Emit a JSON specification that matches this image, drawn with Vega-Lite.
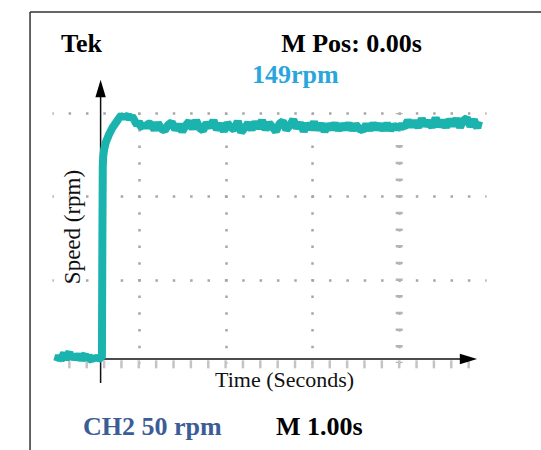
{
  "$schema": "https://vega.github.io/schema/vega-lite/v6.json",
  "width": 434,
  "height": 250,
  "autosize": {"type": "none"},
  "padding": {"left": 52, "top": 113, "right": 55, "bottom": 87},
  "background": "white",
  "config": {"view": {"stroke": null}},
  "datasets": {
    "frame": [
      {"t1": -0.813, "t2": 5.1, "r1": 210.6, "r2": 210.6},
      {"t1": -0.813, "t2": -0.813, "r1": 210.6, "r2": -60}
    ],
    "minor": [
      {"t": -0.36}, {"t": -0.16}, {"t": 0.04}, {"t": 0.24}, {"t": 0.44}, {"t": 0.64},
      {"t": 0.84}, {"t": 1.04}, {"t": 1.24}, {"t": 1.44}, {"t": 1.64}, {"t": 1.84},
      {"t": 2.04}, {"t": 2.24}, {"t": 2.44}, {"t": 2.64}, {"t": 2.84}, {"t": 3.04},
      {"t": 3.24}, {"t": 3.44}, {"t": 3.64}, {"t": 3.84}, {"t": 4.04}, {"t": 4.24}
    ],
    "axes": [
      {"t1": -0.47, "t2": 4.2, "r1": 2.4, "r2": 2.4},
      {"t1": 0, "t2": 0, "r1": -12, "r2": 161}
    ],
    "trace": [
      {"t": -0.5, "rpm": 1}, {"t": -0.48, "rpm": 4.5}, {"t": -0.46, "rpm": 1.5}, {"t": -0.44, "rpm": 4},
      {"t": -0.42, "rpm": 6}, {"t": -0.4, "rpm": 2}, {"t": -0.38, "rpm": 5}, {"t": -0.36, "rpm": 6.5},
      {"t": -0.34, "rpm": 2.5}, {"t": -0.32, "rpm": 5.5}, {"t": -0.3, "rpm": 2}, {"t": -0.28, "rpm": 4.5},
      {"t": -0.26, "rpm": 2.5}, {"t": -0.24, "rpm": 5.5}, {"t": -0.22, "rpm": 1.5}, {"t": -0.2, "rpm": 4},
      {"t": -0.18, "rpm": 5}, {"t": -0.16, "rpm": 2}, {"t": -0.14, "rpm": 4.5}, {"t": -0.12, "rpm": 2.5},
      {"t": -0.1, "rpm": 1.5}, {"t": -0.08, "rpm": 4}, {"t": -0.06, "rpm": 2.5}, {"t": -0.04, "rpm": 3.5},
      {"t": -0.02, "rpm": 2.5}, {"t": 0.0, "rpm": 3}, {"t": 0.015, "rpm": 3}, {"t": 0.02, "rpm": 70},
      {"t": 0.025, "rpm": 118}, {"t": 0.03, "rpm": 124}, {"t": 0.04, "rpm": 128}, {"t": 0.06, "rpm": 132.5},
      {"t": 0.08, "rpm": 135}, {"t": 0.1, "rpm": 137.5}, {"t": 0.12, "rpm": 139.5}, {"t": 0.14, "rpm": 141.5},
      {"t": 0.16, "rpm": 143}, {"t": 0.18, "rpm": 144.5}, {"t": 0.2, "rpm": 146}, {"t": 0.22, "rpm": 147.5},
      {"t": 0.24, "rpm": 148.5}, {"t": 0.26, "rpm": 146.5}, {"t": 0.28, "rpm": 149}, {"t": 0.3, "rpm": 147.5},
      {"t": 0.32, "rpm": 149}, {"t": 0.34, "rpm": 146}, {"t": 0.36, "rpm": 148}, {"t": 0.38, "rpm": 146.5},
      {"t": 0.4, "rpm": 144.5}, {"t": 0.42, "rpm": 143}, {"t": 0.44, "rpm": 145}, {"t": 0.46, "rpm": 142},
      {"t": 0.48, "rpm": 141.5}, {"t": 0.5, "rpm": 144}, {"t": 0.52, "rpm": 141}, {"t": 0.54, "rpm": 143.5},
      {"t": 0.58, "rpm": 143.5}, {"t": 0.62, "rpm": 140}, {"t": 0.66, "rpm": 144}, {"t": 0.7, "rpm": 140.5},
      {"t": 0.74, "rpm": 139.5}, {"t": 0.78, "rpm": 143}, {"t": 0.82, "rpm": 144.5}, {"t": 0.86, "rpm": 140},
      {"t": 0.9, "rpm": 143}, {"t": 0.94, "rpm": 139}, {"t": 0.98, "rpm": 142.5}, {"t": 1.02, "rpm": 145},
      {"t": 1.06, "rpm": 140.5}, {"t": 1.1, "rpm": 145.5}, {"t": 1.14, "rpm": 141}, {"t": 1.18, "rpm": 139.5},
      {"t": 1.22, "rpm": 144}, {"t": 1.26, "rpm": 141.5}, {"t": 1.3, "rpm": 145.5}, {"t": 1.34, "rpm": 140},
      {"t": 1.38, "rpm": 143.5}, {"t": 1.42, "rpm": 139}, {"t": 1.46, "rpm": 144}, {"t": 1.5, "rpm": 141.5},
      {"t": 1.54, "rpm": 140}, {"t": 1.58, "rpm": 145}, {"t": 1.62, "rpm": 138.5}, {"t": 1.66, "rpm": 141},
      {"t": 1.7, "rpm": 144}, {"t": 1.74, "rpm": 140}, {"t": 1.78, "rpm": 144.5}, {"t": 1.82, "rpm": 141},
      {"t": 1.86, "rpm": 145.5}, {"t": 1.9, "rpm": 140}, {"t": 1.94, "rpm": 144}, {"t": 1.98, "rpm": 141.5},
      {"t": 2.02, "rpm": 139}, {"t": 2.06, "rpm": 143.5}, {"t": 2.1, "rpm": 145}, {"t": 2.14, "rpm": 140},
      {"t": 2.18, "rpm": 142.5}, {"t": 2.22, "rpm": 146}, {"t": 2.26, "rpm": 141}, {"t": 2.3, "rpm": 144},
      {"t": 2.34, "rpm": 139}, {"t": 2.38, "rpm": 143.5}, {"t": 2.42, "rpm": 140.5}, {"t": 2.46, "rpm": 144.5},
      {"t": 2.5, "rpm": 140}, {"t": 2.54, "rpm": 143.5}, {"t": 2.58, "rpm": 139}, {"t": 2.62, "rpm": 143},
      {"t": 2.66, "rpm": 140.5}, {"t": 2.7, "rpm": 143.5}, {"t": 2.74, "rpm": 140}, {"t": 2.78, "rpm": 143},
      {"t": 2.82, "rpm": 140.5}, {"t": 2.86, "rpm": 143.5}, {"t": 2.9, "rpm": 140}, {"t": 2.94, "rpm": 143},
      {"t": 2.98, "rpm": 140.5}, {"t": 3.02, "rpm": 139.5}, {"t": 3.06, "rpm": 143}, {"t": 3.1, "rpm": 140},
      {"t": 3.14, "rpm": 143.5}, {"t": 3.18, "rpm": 140.5}, {"t": 3.22, "rpm": 143}, {"t": 3.26, "rpm": 140},
      {"t": 3.3, "rpm": 143.5}, {"t": 3.34, "rpm": 140}, {"t": 3.38, "rpm": 142.5}, {"t": 3.42, "rpm": 141},
      {"t": 3.46, "rpm": 142.5}, {"t": 3.5, "rpm": 141.5}, {"t": 3.54, "rpm": 145.5}, {"t": 3.58, "rpm": 142},
      {"t": 3.62, "rpm": 145}, {"t": 3.66, "rpm": 141.5}, {"t": 3.7, "rpm": 146.5}, {"t": 3.74, "rpm": 142.5},
      {"t": 3.78, "rpm": 145}, {"t": 3.82, "rpm": 141.5}, {"t": 3.86, "rpm": 147}, {"t": 3.9, "rpm": 142},
      {"t": 3.94, "rpm": 145.5}, {"t": 3.98, "rpm": 141.5}, {"t": 4.02, "rpm": 146}, {"t": 4.06, "rpm": 142.5},
      {"t": 4.1, "rpm": 146.5}, {"t": 4.14, "rpm": 141.5}, {"t": 4.18, "rpm": 145.5}, {"t": 4.22, "rpm": 147},
      {"t": 4.26, "rpm": 142}, {"t": 4.3, "rpm": 146}, {"t": 4.34, "rpm": 141}, {"t": 4.36, "rpm": 145}
    ]
  },
  "layer": [
    {
      "data": {"name": "frame"},
      "mark": {"type": "rule", "color": "#333333", "strokeWidth": 1.5},
      "encoding": {
        "x": {
          "field": "t1", "type": "quantitative",
          "scale": {"domain": [-0.56, 4.44], "nice": false, "zero": false},
          "axis": {
            "orient": "bottom", "values": [0.44, 1.44, 2.44, 3.44], "grid": true,
            "gridColor": "#a6a6a6", "gridWidth": 2.5, "gridDash": [2.5, 14.17], "gridDashOffset": 1.25,
            "ticks": false, "labels": false, "domain": false, "title": null
          }
        },
        "x2": {"field": "t2"},
        "y": {
          "field": "r1", "type": "quantitative",
          "scale": {"domain": [0, 150], "nice": false, "zero": false},
          "axis": {
            "orient": "left", "values": [50, 100, 150], "grid": true,
            "gridColor": "#a6a6a6", "gridWidth": 2.5, "gridDash": [2.5, 14.86], "gridDashOffset": 1.25,
            "ticks": false, "labels": false, "domain": false, "title": null
          }
        },
        "y2": {"field": "r2"}
      }
    },
    {
      "data": {"values": [{"t": 3.44, "r1": 0, "r2": 150}]},
      "mark": {"type": "rule", "color": "#b4b4b4", "strokeWidth": 7, "strokeDash": [2.5, 14.17], "strokeDashOffset": 1.25},
      "encoding": {
        "x": {"field": "t", "type": "quantitative"},
        "y": {"field": "r1", "type": "quantitative"},
        "y2": {"field": "r2"}
      }
    },
    {
      "data": {"name": "minor"},
      "mark": {"type": "rule", "color": "#c4c4c4", "strokeWidth": 2.5},
      "encoding": {
        "x": {"field": "t", "type": "quantitative"},
        "y": {"datum": -3.2},
        "y2": {"datum": 1.6}
      }
    },
    {
      "data": {"name": "axes"},
      "mark": {"type": "rule", "color": "#111111", "strokeWidth": 1.5},
      "encoding": {
        "x": {"field": "t1", "type": "quantitative"},
        "x2": {"field": "t2"},
        "y": {"field": "r1", "type": "quantitative"},
        "y2": {"field": "r2"}
      }
    },
    {
      "data": {"name": "trace"},
      "mark": {"type": "line", "color": "#1bb3ad", "strokeWidth": 8, "strokeJoin": "bevel", "strokeCap": "butt"},
      "encoding": {
        "x": {"field": "t", "type": "quantitative"},
        "y": {"field": "rpm", "type": "quantitative"}
      }
    },
    {
      "data": {"values": [{"t": 0, "rpm": 164.7}]},
      "mark": {"type": "point", "shape": "M-0.6,1L0,-1L0.6,1Z", "size": 300, "filled": true, "color": "#000000", "opacity": 1},
      "encoding": {
        "x": {"field": "t", "type": "quantitative"},
        "y": {"field": "rpm", "type": "quantitative"}
      }
    },
    {
      "data": {"values": [{"t": 4.238, "rpm": 2.4}]},
      "mark": {"type": "point", "shape": "M-1,-0.6L1,0L-1,0.6Z", "size": 300, "filled": true, "color": "#000000", "opacity": 1},
      "encoding": {
        "x": {"field": "t", "type": "quantitative"},
        "y": {"field": "rpm", "type": "quantitative"}
      }
    },
    {
      "data": {"values": [
        {"t": -0.456, "rpm": 186.6, "label": "Tek"},
        {"t": 2.08, "rpm": 186.6, "label": "M Pos: 0.00s"},
        {"t": 2.02, "rpm": -43.2, "label": "M 1.00s"}
      ]},
      "mark": {"type": "text", "align": "left", "baseline": "alphabetic", "font": "Liberation Serif", "fontWeight": "bold", "fontSize": 26, "color": "#000000"},
      "encoding": {
        "x": {"field": "t", "type": "quantitative"},
        "y": {"field": "rpm", "type": "quantitative"},
        "text": {"field": "label"}
      }
    },
    {
      "data": {"values": [{"t": 1.745, "rpm": 168, "label": "149rpm"}]},
      "mark": {"type": "text", "align": "left", "baseline": "alphabetic", "font": "Liberation Serif", "fontWeight": "bold", "fontSize": 26, "color": "#2aa6dc"},
      "encoding": {
        "x": {"field": "t", "type": "quantitative"},
        "y": {"field": "rpm", "type": "quantitative"},
        "text": {"field": "label"}
      }
    },
    {
      "data": {"values": [{"t": -0.203, "rpm": -43.2, "label": "CH2 50 rpm"}]},
      "mark": {"type": "text", "align": "left", "baseline": "alphabetic", "font": "Liberation Serif", "fontWeight": "bold", "fontSize": 26, "color": "#3c5c98"},
      "encoding": {
        "x": {"field": "t", "type": "quantitative"},
        "y": {"field": "rpm", "type": "quantitative"},
        "text": {"field": "label"}
      }
    },
    {
      "data": {"values": [{"t": 1.318, "rpm": -14.4, "label": "Time (Seconds)"}]},
      "mark": {"type": "text", "align": "left", "baseline": "alphabetic", "font": "Liberation Serif", "fontSize": 22, "color": "#111111"},
      "encoding": {
        "x": {"field": "t", "type": "quantitative"},
        "y": {"field": "rpm", "type": "quantitative"},
        "text": {"field": "label"}
      }
    },
    {
      "data": {"values": [{"t": -0.237, "rpm": 81.6, "label": "Speed (rpm)"}]},
      "mark": {"type": "text", "align": "center", "baseline": "alphabetic", "angle": 270, "font": "Liberation Serif", "fontSize": 23, "color": "#111111"},
      "encoding": {
        "x": {"field": "t", "type": "quantitative"},
        "y": {"field": "rpm", "type": "quantitative"},
        "text": {"field": "label"}
      }
    }
  ]
}
